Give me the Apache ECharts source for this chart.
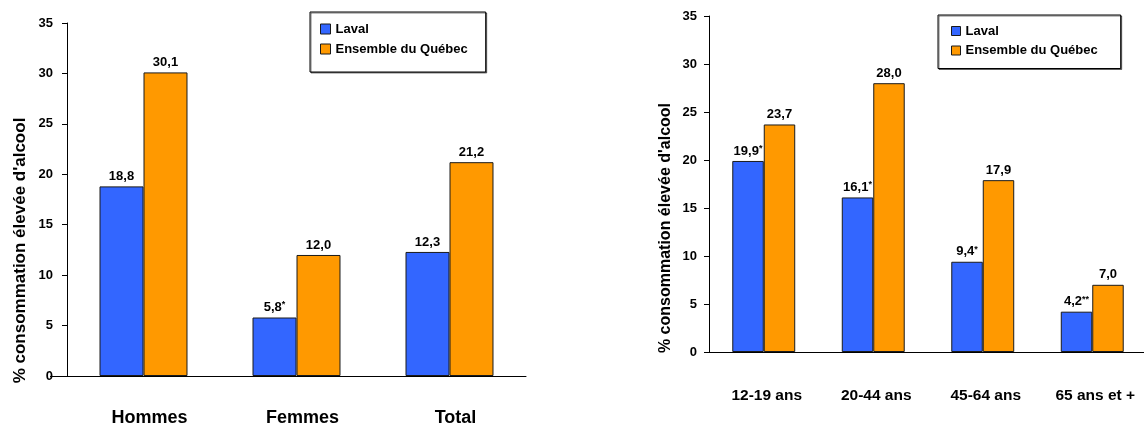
<!DOCTYPE html>
<html><head><meta charset="utf-8">
<script src="https://cdn.jsdelivr.net/npm/echarts@6/dist/echarts.min.js"></script>
<style>html,body{margin:0;padding:0;background:#fff}#c{width:1144px;height:424px}</style>
</head><body><div id="c"></div>
<script>
const seriesNames = ['Laval', 'Ensemble du Québec'];
const sexCategories = ['Hommes', 'Femmes', 'Total'];
const sexLaval = [18.8, 5.8, 12.3];
const sexLavalFlags = ['', '*', ''];
const sexQuebec = [30.1, 12.0, 21.2];
const ageCategories = ['12-19 ans', '20-44 ans', '45-64 ans', '65 ans et +'];
const ageLaval = [19.9, 16.1, 9.4, 4.2];
const ageLavalFlags = ['*', '*', '*', '**'];
const ageQuebec = [23.7, 28.0, 17.9, 7.0];
const yTitle = "% consommation élevée d'alcool";

const BLUE = '#3366FF', ORANGE = '#FF9900';
const FF = 'Liberation Sans';
const fmt = v => v.toFixed(1).replace('.', ',');

function labelOf(flags, size) {
  return {
    show: true, position: 'top', distance: 3,
    formatter: p => {
      const f = flags ? flags[p.dataIndex] : '';
      return '{v|' + fmt(p.value) + '}' + (f ? '{s|' + f + '}' : '');
    },
    rich: {
      v: {fontFamily: FF, fontWeight: 'bold', fontSize: size, color: '#000', lineHeight: 14},
      s: {fontFamily: FF, fontWeight: 'bold', fontSize: size - 4, color: '#000', lineHeight: 14, verticalAlign: 'top'}
    }
  };
}

function bar(name, data, gi, color, flags, size) {
  return {
    type: 'bar', name, data, xAxisIndex: gi, yAxisIndex: gi,
    barGap: '0%', barCategoryGap: '42.5%',
    itemStyle: {color, borderColor: '#1a1a1a', borderWidth: 1},
    label: labelOf(flags, size),
    emphasis: {disabled: true}
  };
}

function legendAt(left, top, padding, icon, gap) {
  return {
    orient: 'vertical', left, top, padding, itemWidth: icon, itemHeight: icon, itemGap: gap,
    icon: 'rect', data: seriesNames,
    backgroundColor: '#fff', borderColor: '#000', borderWidth: 1,
    shadowColor: 'rgba(0,0,0,0.5)', shadowOffsetX: 1, shadowOffsetY: 1, shadowBlur: 0,
    itemStyle: {borderColor: '#1a1a1a', borderWidth: 1},
    textStyle: {fontFamily: FF, fontWeight: 'bold', fontSize: 13, color: '#000', lineHeight: 14},
    selectedMode: false
  };
}

function yAx(gi, labelMargin, titleSize, titleGap, titlePad) {
  return {
    gridIndex: gi, type: 'value', min: 0, max: 35, interval: 5,
    axisLine: {show: true, lineStyle: {color: '#000', width: 1}},
    axisTick: {show: true, length: 5, lineStyle: {color: '#000'}},
    splitLine: {show: false},
    axisLabel: {fontFamily: FF, fontWeight: 'bold', fontSize: 13, color: '#000', margin: labelMargin},
    name: yTitle, nameLocation: 'middle', nameGap: titleGap,
    nameTextStyle: {fontFamily: FF, fontWeight: 'bold', fontSize: titleSize, color: '#000', padding: titlePad}
  };
}

function xAx(gi, cats, size, margin, pad) {
  return {
    gridIndex: gi, type: 'category', data: cats,
    axisLine: {show: true, lineStyle: {color: '#000', width: 1}},
    axisTick: {show: false},
    axisLabel: {fontFamily: FF, fontWeight: 'bold', fontSize: size, color: '#000', margin, interval: 0, padding: pad}
  };
}

const chart = echarts.init(document.getElementById('c'), null, {renderer: 'canvas'});
chart.setOption({
  animation: false,
  backgroundColor: '#fff',
  grid: [
    {left: 67, top: 23, width: 459, bottom: 48, outerBoundsMode: 'none', containLabel: false},
    {left: 709, top: 16, width: 438, bottom: 72, outerBoundsMode: 'none', containLabel: false}
  ],
  legend: [
    legendAt(310, 12, [10, 18, 16, 10], 10, 6),
    legendAt(938, 15, [9, 23, 11, 13], 9, 5.5)
  ],
  xAxis: [
    xAx(0, sexCategories, 18, 33, [0, 0, 0, 12]),
    xAx(1, ageCategories, 15.5, 36, [0, 0, 0, 6])
  ],
  yAxis: [
    yAx(0, 14, 17, 38, [0, 102, 0, 0]),
    yAx(1, 12, 16, 35, [0, 88, 0, 0])
  ],
  graphic: [
    {type: 'line', shape: {x1: 50, y1: 376.5, x2: 67, y2: 376.5}, style: {stroke: '#000', lineWidth: 1}, silent: true}
  ],
  series: [
    bar(seriesNames[0], sexLaval, 0, BLUE, sexLavalFlags, 13),
    bar(seriesNames[1], sexQuebec, 0, ORANGE, null, 13),
    bar(seriesNames[0], ageLaval, 1, BLUE, ageLavalFlags, 13),
    bar(seriesNames[1], ageQuebec, 1, ORANGE, null, 13)
  ]
});
</script></body></html>
